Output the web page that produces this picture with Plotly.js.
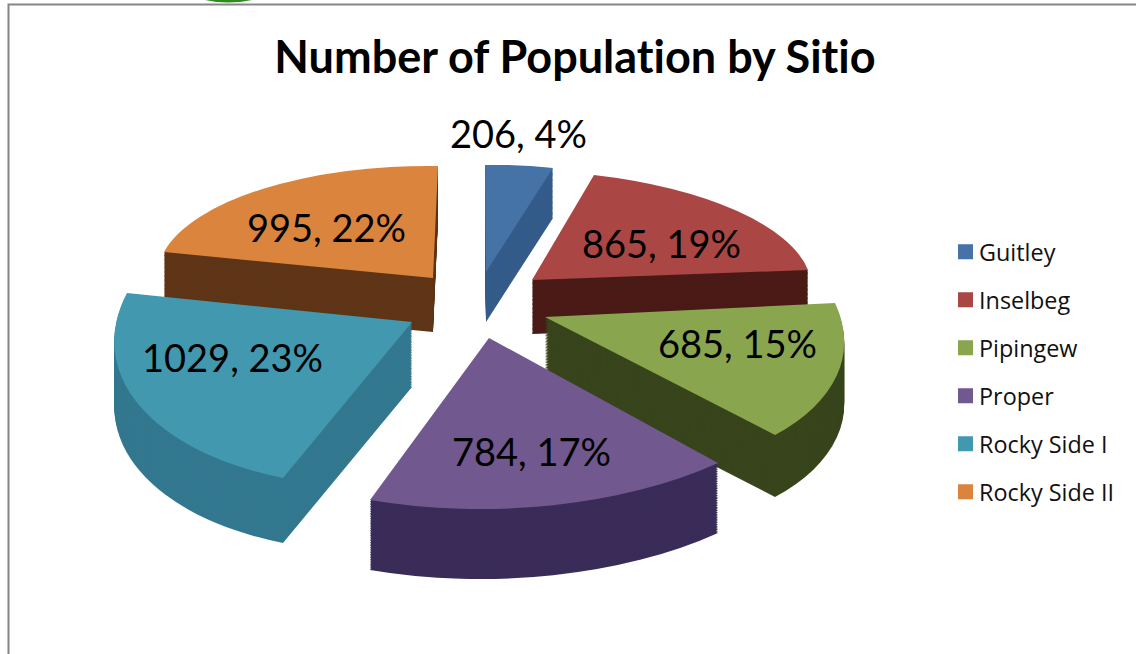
<!DOCTYPE html>
<html><head><meta charset="utf-8">
<script src="https://cdn.plot.ly/plotly-3.0.1.min.js"></script>
<style>html,body{margin:0;padding:0;background:#fff;overflow:hidden} svg text, svg tspan{font-variant-ligatures:none !important}</style>
</head><body><div id="chart" style="width:1136px;height:654px"></div>
<script>
var categories = ["Guitley","Inselbeg","Pipingew","Proper","Rocky Side I","Rocky Side II"];
var population = [206,865,685,784,1029,995];
var percentLabels = [4,19,15,17,23,22];
var topColors = ["#4572a7","#aa4643","#89a54e","#71588f","#4198af","#db843d"];
var wallColors = ["#355c8a","#4a1a17","#38451c","#3a2c58","#33788f","#5f3517"];
var labelX = [518,661,737,531,232,326];
var labelY = [133,243,343,451,357,227];

// 3-D look: where each slice's tip and two outer corners sit on the page, and its wall height
var tipPos   = [[486,272],[532,280],[545,317],[489,338],[412,322],[433,278]];
var startPos = [[485,165],[594,175],[835,303],[718,463],[283,478],[164,252]];
var endPos   = [[553,168],[808,270],[775,435],[370,500],[127,293],[438,166]];
var wallDepth = [50,54,62,70,65,54];

var W = 1136, H = 654;
var pieH = 480, pieTop = 50, maxDepth = 82, step = 2, pullFrac = 0.175;

function pieTrace(offset, colors){
  return {
    type:'pie', labels:categories, values:population, sort:false, direction:'clockwise', rotation:0,
    pull:categories.map(function(){return pullFrac;}),
    marker:{colors:colors, line:{width:0}},
    textinfo:'none', hoverinfo:'label+value+percent', showlegend:false,
    domain:{x:[0,1], y:[1-(pieTop+offset+pieH)/H, 1-(pieTop+offset)/H]}
  };
}
var traces = [], offsets = [];
for (var d = maxDepth; d > 0; d -= step) { traces.push(pieTrace(d, wallColors)); offsets.push(d); }
traces.push(pieTrace(0, topColors)); offsets.push(0);
categories.forEach(function(c,i){
  traces.push({type:'scatter', mode:'markers', x:[null], y:[null], name:c, legendgroup:c, showlegend:true,
    marker:{symbol:'square', size:15, color:topColors[i]}, hoverinfo:'skip'});
});

var annotations = categories.map(function(c,i){
  return {xref:'paper', yref:'paper', x:labelX[i]/W, y:1-labelY[i]/H, xanchor:'center', yanchor:'middle',
    showarrow:false, text:population[i]+', '+percentLabels[i]+'%',
    font:{family:'Lato, sans-serif', size:38, color:'#000'}};
});
function toPaper(p){ return p.replace(/([\d.]+) ([\d.]+)/g,function(m,a,b){return (a/W)+' '+(1-b/H);}); }

var layout = {
  width:W, height:H, margin:{l:0,r:0,t:0,b:0}, paper_bgcolor:'#fff', plot_bgcolor:'#fff',
  title:{text:'<b>Number of Population by Sitio</b>', x:575/W, xanchor:'center', xref:'paper', y:1-57/H, yanchor:'middle', yref:'paper',
    font:{family:'Lato, sans-serif', size:45, color:'#000'}},
  xaxis:{visible:false}, yaxis:{visible:false},
  legend:{x:945.5/W, y:1-230/H, xanchor:'left', yanchor:'top', traceorder:'grouped', tracegroupgap:14.6,
    font:{family:'"Open Sans", sans-serif', size:23.4, color:'#111'}, itemwidth:30, bgcolor:'rgba(0,0,0,0)'},
  shapes:[
    {type:'path', xref:'paper', yref:'paper', path:toPaper('M 8.5 654 L 8.5 4.5 L 1136 4.5'), line:{color:'#868686',width:2}},
    {type:'path', xref:'paper', yref:'paper', path:toPaper('M 205 0 Q 228 5 252 0 Z'), line:{width:0}, fillcolor:'#2e8b1e'}
  ],
  annotations:annotations
};

function affine(src, dst){
  var s=src, t=dst;
  var det=(s[0][0]-s[2][0])*(s[1][1]-s[2][1])-(s[1][0]-s[2][0])*(s[0][1]-s[2][1]);
  function solve(k){
    var a=((t[0][k]-t[2][k])*(s[1][1]-s[2][1])-(t[1][k]-t[2][k])*(s[0][1]-s[2][1]))/det;
    var b=((s[0][0]-s[2][0])*(t[1][k]-t[2][k])-(s[1][0]-s[2][0])*(t[0][k]-t[2][k]))/det;
    return [a,b,t[2][k]-a*s[2][0]-b*s[2][1]];
  }
  var x=solve(0), y=solve(1);
  return [x[0],y[0],x[1],y[1],x[2],y[2]];
}
function place(){
  var total = population.reduce(function(a,b){return a+b;},0);
  var cx = W/2, cy = pieTop+pieH/2, R = (pieH/2)/(1+pullFrac), acc = 0;
  var mats = population.map(function(v,i){
    var a0 = acc/total*2*Math.PI; acc += v; var a1 = acc/total*2*Math.PI; var am=(a0+a1)/2;
    var tip=[cx+pullFrac*R*Math.sin(am), cy-pullFrac*R*Math.cos(am)];
    var e0=[tip[0]+R*Math.sin(a0), tip[1]-R*Math.cos(a0)];
    var e1=[tip[0]+R*Math.sin(a1), tip[1]-R*Math.cos(a1)];
    return affine([tip,e0,e1],[tipPos[i],startPos[i],endPos[i]]);
  });
  var groups = document.querySelectorAll('#chart .pielayer > .trace');
  groups.forEach(function(g,k){
    var off = offsets[k];
    g.querySelectorAll('.slice').forEach(function(sl){
      var i = sl.__data__.i, m = mats[i];
      var dy = wallDepth[i]*off/maxDepth;
      sl.setAttribute('transform','translate(0,'+dy+') matrix('+m.join(',')+') translate(0,'+(-off)+')');
    });
  });
  document.querySelectorAll('#chart .legendtext').forEach(function(t){
    t.setAttribute('x', parseFloat(t.getAttribute('x'))-6.5);
  });
}
Plotly.newPlot('chart', traces, layout, {displayModeBar:false}).then(place);
</script></body></html>
